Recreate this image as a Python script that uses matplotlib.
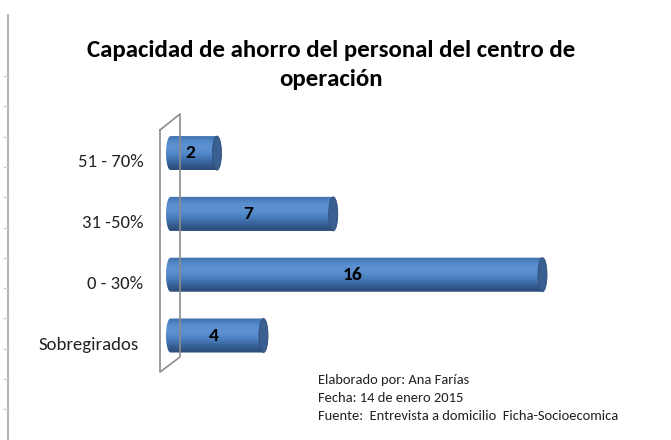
import numpy as np
import matplotlib
matplotlib.use("Agg")
import matplotlib.pyplot as plt
from matplotlib.path import Path
from matplotlib.patches import Ellipse, PathPatch
from matplotlib.lines import Line2D
from matplotlib import font_manager

# data
categorias = ["Sobregirados", "0 - 30%", "31 -50%", "51 - 70%"]
valores = [4, 16, 7, 2]

titulo = "Capacidad de ahorro del personal del centro de\noperación"
nota = ["Elaborado por: Ana Farías",
        "Fecha: 14 de enero 2015",
        "Fuente:  Entrevista a domicilio  Ficha-Socioecomica"]

# pick a narrow sans if one is around
names = {f.name for f in font_manager.fontManager.ttflist}
base = next((n for n in ["Carlito", "Liberation Sans Narrow", "Roboto Condensed", "Lato"]
             if n in names), "DejaVu Sans")
plt.rcParams["font.family"] = [base, "DejaVu Sans"]

W, H = 671, 440
fig = plt.figure(figsize=(W / 100, H / 100), dpi=100)

# axes placed so that value 0 sits just right of the back wall
px_unit = 23.25
x0_px = 170.5
pad = 1.0  # room on the left for the rounded end of each bar
ax_w_px = 460
row_px = 60.8
bottom_px = 440 - 335.5 - row_px / 2
left_px = x0_px - pad * px_unit
ax = fig.add_axes([left_px / W, bottom_px / H, ax_w_px / W, 4 * row_px / H])
ax.axis("off")

bar_h = 0.56
cap_w = 9 / px_unit

# vertical shading of the cylinder body (top -> bottom)
grad = np.array([0.45, 0.62, 0.75, 0.82, 0.80, 0.70, 0.58, 0.45, 0.32, 0.20, 0.10])
shade = grad.reshape(-1, 1)
cmap = matplotlib.colors.LinearSegmentedColormap.from_list(
    "cyl", ["#25446c", "#3a67a0", "#5288c9", "#6a9ddc"])

for i, v in enumerate(valores):
    y = i
    t = np.linspace(np.pi / 2, 3 * np.pi / 2, 40)
    arc = np.column_stack([cap_w / 2 * np.cos(t), y + bar_h / 2 * np.sin(t)])
    verts = np.vstack([[[v, y + bar_h / 2]], arc, [[v, y - bar_h / 2]], [[v, y + bar_h / 2]]])
    codes = [Path.MOVETO] + [Path.LINETO] * (len(verts) - 2) + [Path.CLOSEPOLY]
    body = PathPatch(Path(verts, codes), facecolor="none", edgecolor="none")
    ax.add_patch(body)
    im = ax.imshow(shade, cmap=cmap, vmin=0, vmax=1, aspect="auto",
                   extent=(-cap_w, v, y - bar_h / 2, y + bar_h / 2),
                   interpolation="bicubic", zorder=2)
    im.set_clip_path(body)
    ax.add_patch(Ellipse((v, y), cap_w, bar_h, facecolor="#3a5f91",
                         edgecolor="#2d4d78", lw=0.6, zorder=3))
    ax.text(v / 2 - 0.15, y, str(v), ha="center", va="center",
            fontsize=14, fontweight="bold", color="black", zorder=4)
    # the lowest label sits a little further left
    dx = 32 if i == 0 else 27
    ax.text(-dx / px_unit, y - 9 / row_px, categorias[i], ha="right", va="center",
            fontsize=13.5, color="#222222", clip_on=False)

ax.set_xlim(-pad, -pad + ax_w_px / px_unit)
ax.set_ylim(-0.5, 3.5)


def fig_line(xs, ys, **kw):
    fig.add_artist(Line2D([x / W for x in xs], [1 - y / H for y in ys],
                          transform=fig.transFigure, **kw))


# back wall of the 3D chart
fig_line([160, 180, 180, 160, 160], [130, 114, 357, 372, 130], color="#8c8c8c", lw=1.2)

# sheet border on the left
fig_line([8, 8], [15, 440], color="#b5b5b5", lw=1.5)
for yy in np.arange(76, 440, 30.3):
    fig_line([4, 8], [yy, yy], color="#d0d0d0", lw=1)

fig.text(331 / W, 1 - 65 / H, titulo, ha="center", va="center", fontsize=17.9,
         fontweight="bold", linespacing=1.5)

for k, linea in enumerate(nota):
    fig.text(318 / W, 1 - (380 + 18 * k) / H, linea, ha="left", va="center",
             fontsize=10.45, color="#222222")

fig.savefig("out.png", dpi=100, facecolor="white")
